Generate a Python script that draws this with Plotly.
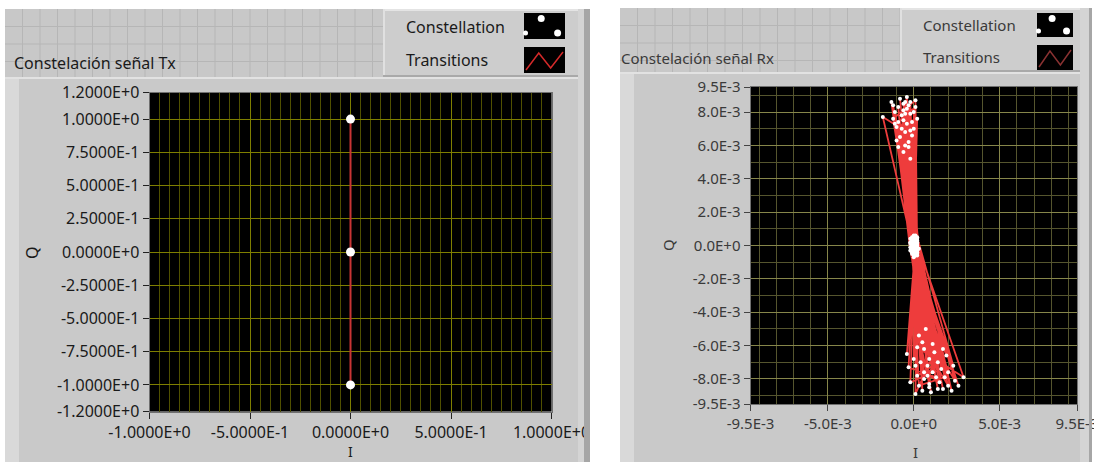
import plotly.graph_objects as go
import numpy as np

# ---------------- data ----------------
# Transmitted constellation (3-level, Q only)
I_TX = [0.0, 0.0, 0.0]
Q_TX = [1.0, 0.0, -1.0]
# transition path between the symbols
I_TX_PATH = [0.0, 0.0, 0.0, 0.0, 0.0]
Q_TX_PATH = [1.0, 0.0, -1.0, 0.0, 1.0]

X_TX_TICKS = [-1.0, -0.5, 0.0, 0.5, 1.0]
X_TX_LABELS = ["-1.0000E+0", "-5.0000E-1", "0.0000E+0", "5.0000E-1", "1.0000E+0"]
Y_TX_TICKS = [1.2, 1.0, 0.75, 0.5, 0.25, 0.0, -0.25, -0.5, -0.75, -1.0, -1.2]
Y_TX_LABELS = ["1.2000E+0", "1.0000E+0", "7.5000E-1", "5.0000E-1", "2.5000E-1",
               "0.0000E+0", "-2.5000E-1", "-5.0000E-1", "-7.5000E-1",
               "-1.0000E+0", "-1.2000E+0"]

# Received samples, in units of 1e-3 (sequence order = transitions)
I_RX_MILLI = [-0.6, 0.0, 0.6, 0.1, -0.2, -0.1, 1.4, 0.2, 0.2, -0.9,
              0.1, 0.0, 2.0, -0.2, -0.5, 0.1, 0.9, 0.3, 0.2, -1.1,
              -0.1, 1.7, 0.0, -0.3, -0.7, 0.1, 0.0, 0.2, 0.0, 0.1,
              0.0, -1.3, -0.2, 1.1, 2.4, 0.1, -0.4, -0.8, -0.1, 0.5,
              0.2, -0.1, 0.0, 1.3, -0.3, 0.1, -0.6, -0.1, 0.8, 0.2,
              -1.0, 0.2, 0.0, 1.9, -0.1, -0.4, 0.1, 0.2, 2.9, 0.3,
              -0.2, 0.0, 1.0, -0.2, -0.9, 0.9, 0.1, -0.5, 0.0, 0.4,
              0.2, 0.1, -1.2, -0.1, 1.6, -0.2, 0.1, -0.3, 0.0, 2.2,
              0.2, -0.7, -1.8, -0.1, 0.7, 0.1, -0.8, 0.0, 1.2, 0.1,
              0.2, -0.1, -0.2, 2.6, 0.1, -0.5, -0.3, 0.0, 0.6, 1.5,
              -0.1, -1.0, 0.1, -0.4, 0.2, -0.6, 0.6, 0.0, -0.2, 0.1,
              0.9, 0.0, -0.4, 0.1, 1.8, 0.3, -0.1, -1.1, 0.2, 2.3,
              0.0, -0.6, 0.0, 0.1, 1.1, -0.1, -0.9, 0.2, 0.5, 2.0,
              0.0, -0.2, 0.1, 1.4, -0.2, -1.2, 0.1, 0.8, 1.7, 0.2,
              -0.5]
Q_RX_MILLI = [8.5, 0.3, -6.2, -0.2, 7.9, 0.5, -7.0, -7.8, 0.0, 7.4,
              8.3, -0.6, -7.6, 0.1, 6.8, 0.6, -8.3, -5.4, -0.4, 8.0,
              -0.1, -8.6, 0.1, 6.2, 7.8, 0.2, -6.8, -0.3, 7.0, -7.2,
              -0.5, 8.6, 0.4, -5.9, -8.1, -0.1, 8.9, 6.5, 0.2, -8.7,
              0.3, 6.6, -0.7, -7.9, -7.3, 0.5, 5.6, -0.3, -7.2, 0.1,
              7.1, 7.6, 0.0, -6.6, -0.4, 7.3, 0.4, -6.1, -7.9, -0.2,
              5.2, 0.5, -8.8, -0.1, 8.3, -8.5, -0.6, 6.0, 0.2, -7.0,
              -0.5, 8.7, 7.6, 0.3, -7.4, -8.2, 0.0, 8.4, -0.2, -8.7,
              0.4, 7.0, 7.7, 0.1, -5.0, -0.3, 8.8, 0.6, -6.4, -8.9,
              -0.1, 7.4, 0.2, -8.4, -0.5, 7.9, 5.9, 0.4, -7.6, -8.2,
              -0.2, 6.3, 0.1, -6.5, -0.6, 8.1, -8.0, -0.1, 8.6, 0.3,
              -6.8, 0.2, 8.2, -0.3, -7.9, -8.4, 0.0, 7.3, 0.5, -7.2,
              -0.4, 7.5, 8.0, 0.3, -7.6, -0.5, 5.9, 0.2, -5.8, -8.4,
              -0.2, 6.9, 0.4, -8.6, -0.3, 8.4, 0.0, -7.8, -6.2, -0.1,
              8.6]
I_RX = np.array(I_RX_MILLI) * 1e-3
Q_RX = np.array(Q_RX_MILLI) * 1e-3

X_RX_TICKS = [-9.5e-3, -5e-3, 0.0, 5e-3, 9.5e-3]
X_RX_LABELS = ["-9.5E-3", "-5.0E-3", "0.0E+0", "5.0E-3", "9.5E-3"]
Y_RX_TICKS = [9.5e-3, 8e-3, 6e-3, 4e-3, 2e-3, 0.0, -2e-3, -4e-3, -6e-3, -8e-3, -9.5e-3]
Y_RX_LABELS = ["9.5E-3", "8.0E-3", "6.0E-3", "4.0E-3", "2.0E-3", "0.0E+0",
               "-2.0E-3", "-4.0E-3", "-6.0E-3", "-8.0E-3", "-9.5E-3"]

# ---------------- page geometry helpers ----------------
W, H = 1094, 462
FONT = "Noto Sans"

# plot areas (pixels: left, top, right, bottom)
TX_BOX = (149.5, 92.5, 551.5, 411.5)
RX_BOX = (750.5, 87, 1077, 404)


def px(x):
    return x / W


def py(y):
    return 1 - y / H


shapes = []


def rect(x0, y0, x1, y1, fill, layer="below", line=None):
    shapes.append(dict(type="rect", xref="paper", yref="paper",
                       x0=px(x0), x1=px(x1), y0=py(y1), y1=py(y0),
                       fillcolor=fill, layer=layer,
                       line=dict(width=0) if line is None else line))


def hline(x0, x1, y, color, width=1, layer="below"):
    shapes.append(dict(type="line", xref="paper", yref="paper",
                       x0=px(x0), x1=px(x1), y0=py(y), y1=py(y),
                       line=dict(color=color, width=width), layer=layer))


def vline(x, y0, y1, color, width=1, layer="below"):
    shapes.append(dict(type="line", xref="paper", yref="paper",
                       x0=px(x), x1=px(x), y0=py(y0), y1=py(y1),
                       line=dict(color=color, width=width), layer=layer))


def dot(cx, cy, r, color, layer="above"):
    shapes.append(dict(type="circle", xref="paper", yref="paper",
                       x0=px(cx - r), x1=px(cx + r), y0=py(cy + r), y1=py(cy - r),
                       fillcolor=color, line=dict(width=0), layer=layer))


def zigzag(pts, color, width=1.5):
    d = "M" + " L".join(f"{px(x)},{py(y)}" for x, y in pts)
    shapes.append(dict(type="path", xref="paper", yref="paper", path=d,
                       line=dict(color=color, width=width), layer="above"))


annotations = []


def label(x, y, text, size, color, xanchor="left", yanchor="middle", angle=0):
    annotations.append(dict(x=px(x), y=py(y), xref="paper", yref="paper",
                            text=text, showarrow=False, xanchor=xanchor,
                            yanchor=yanchor, textangle=angle, borderpad=0,
                            font=dict(family=FONT, size=size, color=color)))


def panel(x0, x1, y_top, y_split, grid_step, leg_x0, title, title_x, title_y,
          leg_text_y, sw_x0, sw_x1, sw_rows, zig_color, tsize, tcolor, box,
          bevel):
    # panel background with the front-panel alignment grid
    rect(x0, y_top, x1, y_split, "#c8c8c8")
    gx = x0 + grid_step
    while gx < x1:
        vline(gx, y_top, y_split, "#b6b6b6")
        gx += grid_step
    gy = y_top + grid_step
    while gy < y_split - 2:
        hline(x0, x1, gy, "#b6b6b6")
        gy += grid_step
    # graph frame
    rect(x0, y_split, x1, H, "#c9c9c9")
    rect(x0, y_split, x0 + 14, H, "#d9d9d9")
    hline(x0, x1, y_split + 1, "#e2e2e2", 2)
    # plotting area background
    rect(box[0], box[1], box[2], box[3], "#000000")
    # legend box
    rect(leg_x0, y_top, x1, y_split, "#cdcdcd")
    hline(leg_x0, x1, y_top + 1, "#e4e4e4", 2)
    vline(leg_x0 + 1, y_top, y_split, "#e0e0e0", 2)
    hline(leg_x0, x1, y_split - 1, "#a9a9a9", 2)
    # right bevel
    rect(x1 - 12, y_top, x1 - bevel, H, "#d4d4d4")
    rect(x1 - bevel, y_top, x1, H, "#a6a6a6", layer="above")
    # legend swatches
    (a0, a1), (b0, b1) = sw_rows
    rect(sw_x0, a0, sw_x1, a1, "#000000", layer="above")
    rect(sw_x0, b0, sw_x1, b1, "#000000", layer="above")
    w = sw_x1 - sw_x0
    dot(sw_x0 + w * 0.42, a0 + 5.5, 3.5, "white")
    dot(sw_x0 + 1.5, a1 - 6, 2.5, "white")
    dot(sw_x0 + w * 0.82, a1 - 6, 3.5, "white")
    zigzag([(sw_x0 + 2, b1 - 3), (sw_x0 + w * 0.36, b0 + 6),
            (sw_x0 + w * 0.65, b1 - 5), (sw_x1 - 2, b0 + 5)], zig_color)
    # texts
    label(title_x, title_y, title, tsize, tcolor)
    label(leg_x0 + 22, leg_text_y[0], "Constellation", tsize, tcolor)
    label(leg_x0 + 22, leg_text_y[1], "Transitions", tsize, tcolor)


# left graph panel
panel(5, 590, 9, 77, 17.5, 383, "Constelación señal Tx", 13, 63, (27, 60),
      524, 565, ((13, 39), (47, 73)), "#d42a2a", 16, "#1a1a1a", TX_BOX, 6)
# right graph panel
panel(620, 1092, 8, 72, 17.5, 900, "Constelación señal Rx", 620, 58, (25, 57),
      1037, 1073, ((13, 37), (45, 70)), "#8a3232", 15, "#3a3a3a", RX_BOX, 3)

# axis names
label(32, 253, "Q", 16, "#1a1a1a", xanchor="center", angle=-90)
label(350, 462, "I", 14, "#1a1a1a", xanchor="center", yanchor="bottom")
label(668, 245, "Q", 15, "#3a3a3a", xanchor="center", angle=-90)
label(915, 441, "I", 15, "#3a3a3a", xanchor="center", yanchor="top")

# ---------------- traces ----------------
fig = go.Figure()
fig.add_trace(go.Scatter(x=I_TX_PATH, y=Q_TX_PATH, mode="lines",
                         line=dict(color="#c83434", width=2),
                         xaxis="x", yaxis="y", hoverinfo="skip"))
fig.add_trace(go.Scatter(x=I_TX, y=Q_TX, mode="markers",
                         marker=dict(color="white", size=9),
                         xaxis="x", yaxis="y"))
fig.add_trace(go.Scatter(x=I_RX, y=Q_RX, mode="lines",
                         line=dict(color="#ee3c3c", width=1.8),
                         xaxis="x2", yaxis="y2", hoverinfo="skip"))
fig.add_trace(go.Scatter(x=I_RX, y=Q_RX, mode="markers",
                         marker=dict(color="white", size=4),
                         xaxis="x2", yaxis="y2"))

axis_common = dict(showline=True, linecolor="#707070", linewidth=1, mirror=True,
                   ticks="outside", ticklen=6, tickwidth=1, zeroline=False,
                   tickmode="array", fixedrange=True, automargin=False,
                   ticklabeloverflow="allow")

fig.update_layout(
    width=W, height=H, margin=dict(l=0, r=0, t=0, b=0, autoexpand=False),
    paper_bgcolor="white", plot_bgcolor="black", showlegend=False,
    shapes=shapes, annotations=annotations,
    xaxis=dict(axis_common, domain=[px(TX_BOX[0]), px(TX_BOX[2])], range=[-1, 1],
               anchor="y", tickvals=X_TX_TICKS, ticktext=X_TX_LABELS,
               tickcolor="#222", gridcolor="#7f7f00",
               tickfont=dict(family=FONT, size=16, color="#1a1a1a"),
               minor=dict(dtick=0.05, tick0=0, showgrid=True,
                          gridcolor="#505000", ticks="")),
    yaxis=dict(axis_common, domain=[py(TX_BOX[3]), py(TX_BOX[1])], range=[-1.2, 1.2],
               anchor="x", tickvals=Y_TX_TICKS, ticktext=Y_TX_LABELS,
               tickcolor="#222", gridcolor="#7f7f00",
               tickfont=dict(family=FONT, size=16, color="#1a1a1a")),
    xaxis2=dict(axis_common, domain=[px(RX_BOX[0]), px(RX_BOX[2])],
                range=[-9.5e-3, 9.5e-3], anchor="y2",
                tickvals=X_RX_TICKS, ticktext=X_RX_LABELS,
                tickcolor="#444", gridcolor="#86864a",
                tickfont=dict(family=FONT, size=15, color="#3a3a3a"),
                minor=dict(dtick=1e-3, tick0=0, showgrid=True,
                           gridcolor="#55552e", ticks="")),
    yaxis2=dict(axis_common, domain=[py(RX_BOX[3]), py(RX_BOX[1])],
                range=[-9.5e-3, 9.5e-3], anchor="x2",
                tickvals=Y_RX_TICKS, ticktext=Y_RX_LABELS,
                tickcolor="#444", gridcolor="#86864a",
                tickfont=dict(family=FONT, size=15, color="#3a3a3a"),
                minor=dict(dtick=1e-3, tick0=0, showgrid=True,
                           gridcolor="#55552e", ticks="")),
)

# the Rx screenshot panel is a softer, lower-resolution capture
soften = """
var d = document.createElement('div');
d.style.cssText = 'position:fixed;left:618px;top:0;width:476px;height:462px;' +
  'pointer-events:none;backdrop-filter:blur(0.6px);-webkit-backdrop-filter:blur(0.6px);';
document.body.appendChild(d);
"""

fig.write_html("out.html", post_script=soften)
